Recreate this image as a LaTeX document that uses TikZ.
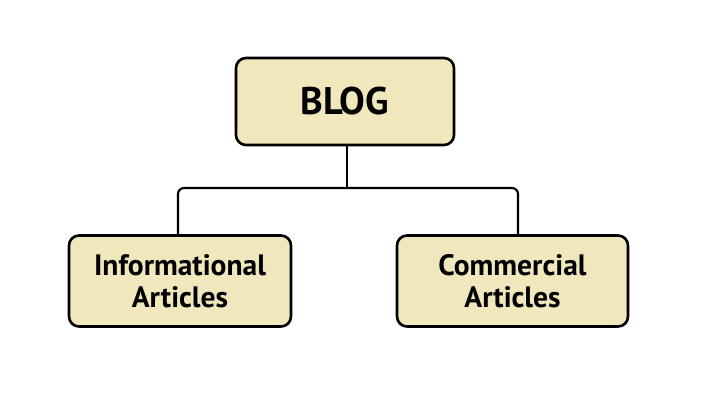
\documentclass[tikz,border=0pt]{standalone}
\usepackage{fontspec}
\setmainfont{PT Sans}
\begin{document}
\begin{tikzpicture}[x=1pt,y=-1pt,
  boxstyle/.style={draw=black, line width=2.6pt, fill=boxfill, rounded corners=10pt, inner sep=0pt, font=\bfseries},
  linkstyle/.style={draw=black, line width=2.2pt, rounded corners=6pt}]
\definecolor{boxfill}{RGB}{240,232,188}
\useasboundingbox (0,0) rectangle (720,420);
\fill[white] (0,0) rectangle (720,420);
\node[boxstyle, minimum width=218pt, minimum height=87pt, font=\fontsize{38.5}{40}\selectfont\bfseries] (blog) at (345,101.5) {BLOG};
\node[boxstyle, minimum width=222pt, minimum height=91pt, align=center, font=\fontsize{29.5}{32.5}\selectfont\bfseries] (info) at (180,281) {Informational\\Articles};
\node[boxstyle, minimum width=231pt, minimum height=91pt, align=center, font=\fontsize{29.5}{32.5}\selectfont\bfseries] (comm) at (512.5,281) {Commercial\\Articles};
\coordinate (junc) at (347,188);
\draw[linkstyle] (blog.south -| junc) -- (junc);
\draw[linkstyle] (info.north -| 178,0) -- (178,188) -- (518,188) -- (comm.north -| 518,0);
\end{tikzpicture}
\end{document}
